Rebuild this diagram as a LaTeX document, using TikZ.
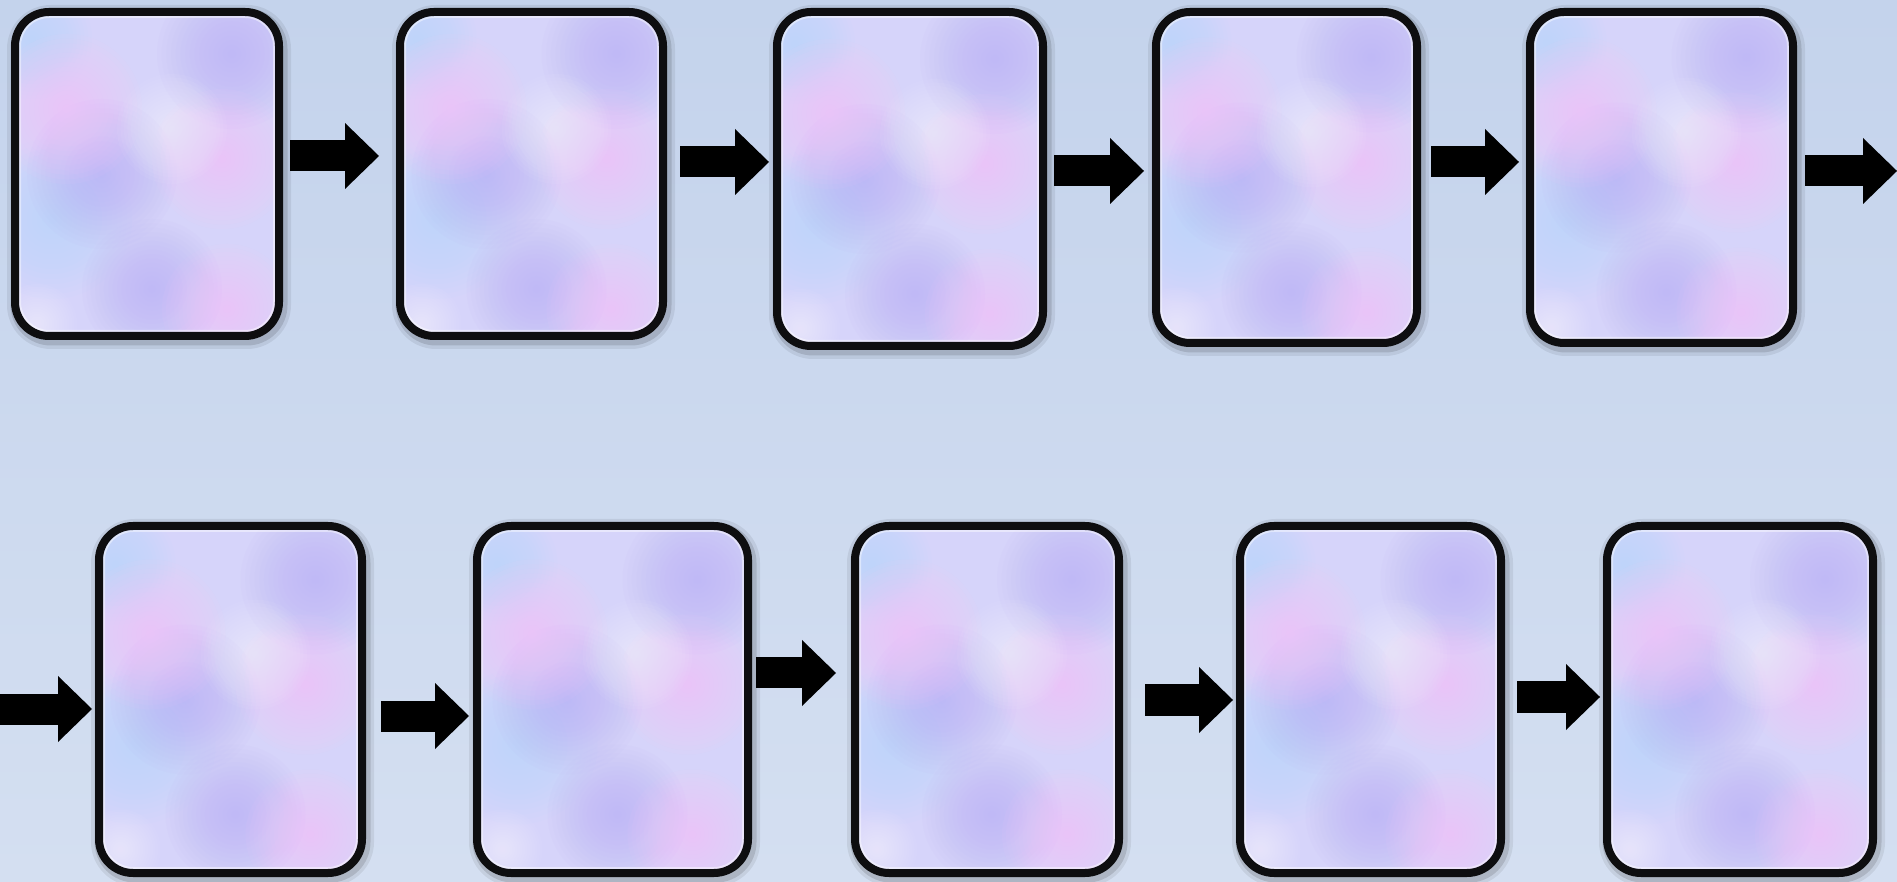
\documentclass[tikz,border=0pt]{standalone}
\usepackage{tikz}
\usetikzlibrary{arrows.meta}
\definecolor{bgtop}{RGB}{196,211,236}
\definecolor{bgbottom}{RGB}{212,223,241}
\definecolor{cardbase}{RGB}{214,212,250}
\definecolor{cardpink}{RGB}{255,196,248}
\definecolor{cardwhite}{RGB}{248,244,255}
\definecolor{cardviolet}{RGB}{184,174,246}
\definecolor{cardblue}{RGB}{182,222,255}
\definecolor{cardline}{RGB}{14,14,16}
\newcommand{\puff}[4]{\foreach \k in {1,...,16}{\fill[#3,opacity=0.055] (#1,#2) circle ({#4*\k/16});}}
\tikzset{
  card/.style={rectangle, rounded corners=34pt, draw=cardline, line width=8pt, inner sep=0pt,
    preaction={draw=black, draw opacity=0.07, line width=20pt, transform canvas={shift={(2pt,-3pt)}}},
    preaction={draw=black, draw opacity=0.12, line width=13pt, transform canvas={shift={(2pt,-3pt)}}},
    path picture={
      \begin{scope}[shift={(path picture bounding box.center)}]
        \fill[cardbase] (-200,-200) rectangle (200,200);
        \puff{-95}{-45}{cardblue}{80}
        \puff{-115}{135}{cardblue}{60}
        \puff{-45}{0}{cardviolet}{75}
        \puff{85}{120}{cardviolet}{75}
        \puff{5}{-115}{cardviolet}{70}
        \puff{-80}{65}{cardpink}{75}
        \puff{75}{15}{cardpink}{70}
        \puff{80}{-135}{cardpink}{65}
        \puff{25}{45}{cardwhite}{55}
        \puff{-110}{-150}{cardwhite}{40}
      \end{scope}
      \draw[white, line width=2pt, opacity=0.45, rounded corners=29pt]
        ([shift={(5pt,5pt)}]path picture bounding box.south west) rectangle
        ([shift={(-5pt,-5pt)}]path picture bounding box.north east);
    }},
  blockarrow/.style={black, line width=31pt, -{Triangle[length=34pt,width=66pt,line width=0pt]}}
}
\begin{document}
\begin{tikzpicture}[x=1pt,y=1pt]
\fill[top color=bgtop, bottom color=bgbottom] (0,0) rectangle (1897,881);
\useasboundingbox (0,0) rectangle (1897,881);
\path (147,707) node (F1) [card, minimum width=264pt, minimum height=324pt] {};
\path (531.5,707) node (F2) [card, minimum width=263pt, minimum height=324pt] {};
\path (910,702) node (F3) [card, minimum width=266pt, minimum height=334pt] {};
\path (1286.5,703.5) node (F4) [card, minimum width=261pt, minimum height=331pt] {};
\path (1661.5,703.5) node (F5) [card, minimum width=263pt, minimum height=331pt] {};
\path (230.5,181.5) node (F6) [card, minimum width=263pt, minimum height=347pt] {};
\path (612.5,181.5) node (F7) [card, minimum width=271pt, minimum height=347pt] {};
\path (987,181.5) node (F8) [card, minimum width=264pt, minimum height=347pt] {};
\path (1370.5,181.5) node (F9) [card, minimum width=261pt, minimum height=347pt] {};
\path (1740,181.5) node (F10) [card, minimum width=266pt, minimum height=347pt] {};
\coordinate (E5) at (1897,710);
\coordinate (S6) at (0,172);
\draw[blockarrow] ([xshift=7pt,yshift=18pt]F1.east) -- ([xshift=-17pt,yshift=18pt]F2.west);
\draw[blockarrow] ([xshift=13pt,yshift=12pt]F2.east) -- ([xshift=-4pt,yshift=17pt]F3.west);
\draw[blockarrow] ([xshift=7pt,yshift=8pt]F3.east) -- ([xshift=-8pt,yshift=6.5pt]F4.west);
\draw[blockarrow] ([xshift=10pt,yshift=15.5pt]F4.east) -- ([xshift=-7pt,yshift=15.5pt]F5.west);
\draw[blockarrow] ([xshift=8pt,yshift=6.5pt]F5.east) -- (E5);
\draw[blockarrow] (S6) -- ([xshift=-3pt,yshift=-9.5pt]F6.west);
\draw[blockarrow] ([xshift=15pt,yshift=-16.5pt]F6.east) -- ([xshift=-4pt,yshift=-16.5pt]F7.west);
\draw[blockarrow] ([xshift=4pt,yshift=26.5pt]F7.east) -- ([xshift=-15pt,yshift=26.5pt]F8.west);
\draw[blockarrow] ([xshift=22pt,yshift=-0.5pt]F8.east) -- ([xshift=-3pt,yshift=-0.5pt]F9.west);
\draw[blockarrow] ([xshift=12pt,yshift=2.5pt]F9.east) -- ([xshift=-3pt,yshift=2.5pt]F10.west);
\end{tikzpicture}
\end{document}
